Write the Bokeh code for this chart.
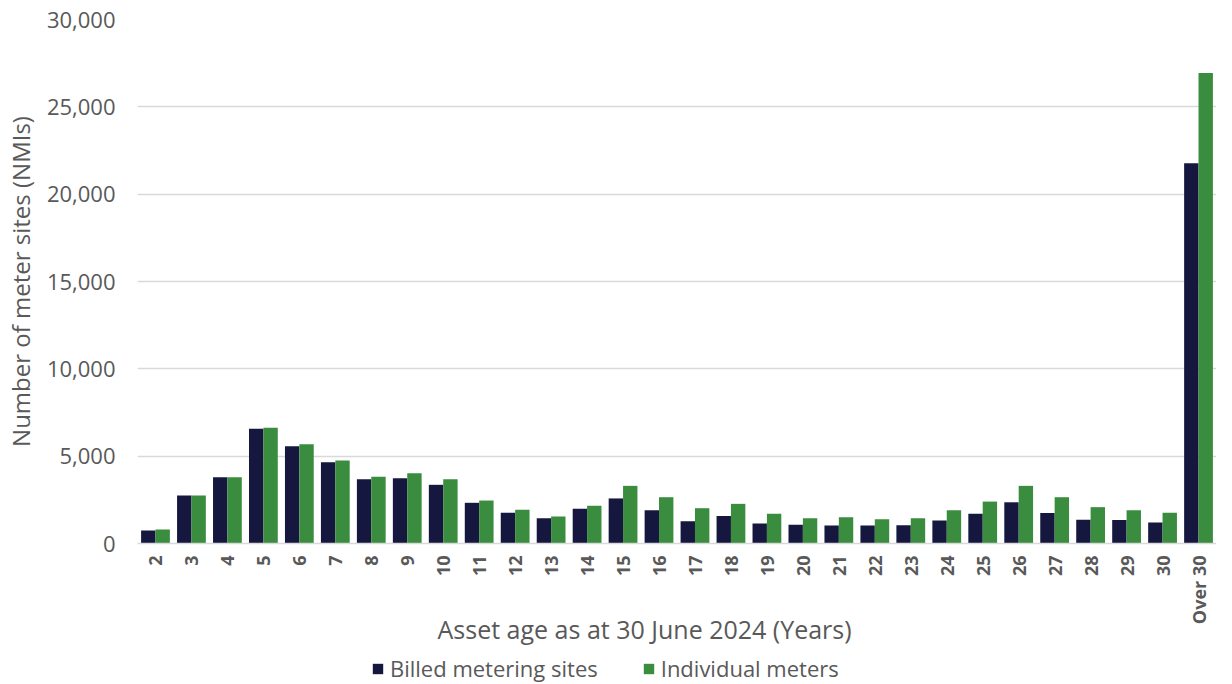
import math
from bokeh.plotting import figure
from bokeh.layouts import column
from bokeh.models import (FactorRange, Range1d, Legend, LegendItem, Title, NumeralTickFormatter,
                          FixedTicker, ColumnDataSource)
from bokeh.transform import dodge
from bokeh.embed import file_html
from bokeh.resources import INLINE

categories = [str(i) for i in range(2, 31)] + ["Over 30"]
billed_metering_sites = [750, 2750, 3800, 6570, 5570, 4650, 3680, 3740, 3360, 2330,
                         1760, 1450, 1990, 2580, 1910, 1280, 1570, 1140, 1070, 1030,
                         1030, 1050, 1320, 1700, 2360, 1740, 1360, 1340, 1200, 21770]
individual_meters = [800, 2750, 3800, 6620, 5680, 4750, 3820, 4020, 3680, 2460,
                     1930, 1550, 2160, 3300, 2650, 2020, 2270, 1700, 1450, 1510,
                     1390, 1450, 1910, 2400, 3300, 2650, 2080, 1910, 1760, 26940]
y_ticks = [0, 5000, 10000, 15000, 20000, 25000, 30000]
series_names = ["Billed metering sites", "Individual meters"]

NAVY = "#15173f"
GREEN = "#3a8c3f"
TXT = "#595959"
FONT = "Open Sans"

src = ColumnDataSource(dict(cat=categories, billed=billed_metering_sites, indiv=individual_meters))

p = figure(x_range=FactorRange(*categories, range_padding=0), y_range=Range1d(0, 30000),
           width=1216, height=650, output_backend="svg", toolbar_location=None,
           min_border_left=130, min_border_right=0, min_border_top=19, min_border_bottom=107,
           outline_line_color=None)

r1 = p.vbar(x=dodge("cat", -0.2, range=p.x_range), top="billed", width=0.4, source=src,
            fill_color=NAVY, line_color=None)
r2 = p.vbar(x=dodge("cat", 0.2, range=p.x_range), top="indiv", width=0.4, source=src,
            fill_color=GREEN, line_color=None)

p.xgrid.grid_line_color = None
p.ygrid.grid_line_color = "#d9d9d9"
p.ygrid.grid_line_width = 1.5
p.yaxis.ticker = FixedTicker(ticks=y_ticks)
p.yaxis.formatter = NumeralTickFormatter(format="0,0")
p.yaxis.axis_line_color = None
p.yaxis.major_tick_line_color = None
p.yaxis.minor_tick_line_color = None
p.yaxis.major_tick_out = 0
p.yaxis.major_tick_in = 0
p.yaxis.minor_tick_out = 0
p.yaxis.major_label_standoff = 22
p.yaxis.major_label_text_font = FONT
p.yaxis.major_label_text_font_size = "22px"
p.yaxis.major_label_text_color = TXT
p.yaxis.axis_label = "Number of meter sites (NMIs)"
p.yaxis.axis_label_text_font = FONT
p.yaxis.axis_label_text_font_size = "24px"
p.yaxis.axis_label_text_font_style = "normal"
p.yaxis.axis_label_text_color = TXT
p.yaxis.axis_label_standoff = 7

p.xaxis.axis_line_color = "#d9d9d9"
p.xaxis.axis_line_width = 1.5
p.xaxis.major_tick_line_color = None
p.xaxis.minor_tick_line_color = None
p.xaxis.major_tick_out = 0
p.xaxis.major_tick_in = 0
p.xaxis.minor_tick_out = 0
p.xaxis.major_label_orientation = math.pi / 2
p.xaxis.major_label_standoff = 12
p.xaxis.major_label_text_font = FONT
p.xaxis.major_label_text_font_size = "18px"
p.xaxis.major_label_text_color = TXT
p.xaxis.major_label_text_font_style = "bold"

title = Title(text="Asset age as at 30 June 2024 (Years)", align="left", offset=300,
              text_font=FONT, text_font_size="25px", text_font_style="normal",
              text_color=TXT, standoff=-37)
p.add_layout(title, "below")

# legend strip below the chart (shares the categorical x range; bars lie outside its y range)
lg = figure(width=1216, height=34, output_backend="svg", toolbar_location=None,
            x_axis_type=None, y_axis_type=None, outline_line_color=None,
            min_border_left=130, min_border_right=0, min_border_top=0, min_border_bottom=0,
            x_range=p.x_range, y_range=Range1d(1e6, 2e6))
lg.xgrid.visible = False
lg.ygrid.visible = False
d1 = lg.vbar(x=dodge("cat", -0.2, range=p.x_range), top="billed", width=0.4, source=src,
             fill_color=NAVY, line_color=None)
d2 = lg.vbar(x=dodge("cat", 0.2, range=p.x_range), top="indiv", width=0.4, source=src,
             fill_color=GREEN, line_color=None)
legend = Legend(items=[LegendItem(label=series_names[0], renderers=[d1]),
                       LegendItem(label=series_names[1], renderers=[d2])],
                orientation="horizontal", location=(234, 1),
                label_text_font=FONT, label_text_font_size="22px", label_text_color=TXT,
                glyph_width=13, glyph_height=13, label_standoff=6, spacing=44,
                border_line_color=None, background_fill_alpha=0, padding=0, margin=0)
lg.add_layout(legend)

layout = column(p, lg, spacing=0)
open("out.html", "w").write(file_html(layout, INLINE))
